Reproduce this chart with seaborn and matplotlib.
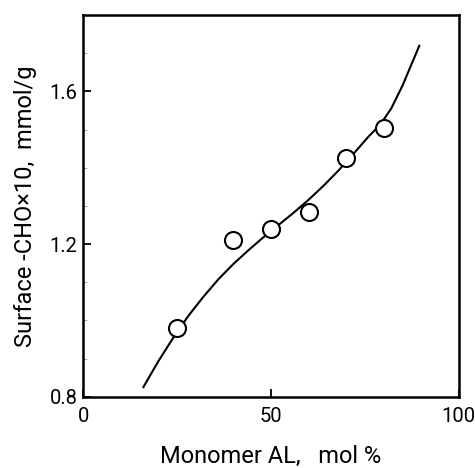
import numpy as np
import pandas as pd
import matplotlib
matplotlib.use("Agg")
import matplotlib.pyplot as plt
import seaborn as sns
from matplotlib.ticker import MultipleLocator

# measured points
monomer_al = [25, 40, 50, 60, 70, 80]
surface_cho = [0.98, 1.21, 1.24, 1.285, 1.425, 1.505]

# smooth guide curve
curve_x = [16, 20, 24, 28, 32, 36, 40, 44, 48, 52, 56, 60, 64, 68, 72, 76, 79, 82, 85, 88, 89.5]
curve_y = [0.825, 0.893, 0.955, 1.012, 1.062, 1.108, 1.148, 1.184, 1.218, 1.250, 1.282,
           1.316, 1.353, 1.393, 1.437, 1.482, 1.512, 1.555, 1.615, 1.685, 1.72]

pts = pd.DataFrame({"al": monomer_al, "cho": surface_cho})
curve = pd.DataFrame({"al": curve_x, "cho": curve_y})

sns.set_style("ticks")
plt.rcParams["font.family"] = ["Roboto", "DejaVu Sans"]
plt.rcParams["text.color"] = "black"
plt.rcParams["axes.labelcolor"] = "black"
plt.rcParams["xtick.color"] = "black"
plt.rcParams["ytick.color"] = "black"

fig = plt.figure(figsize=(4.75, 4.68), dpi=100)
ax = fig.add_axes([0.175, 0.152, 0.791, 0.816])

sns.lineplot(x="al", y="cho", data=curve, sort=False, color="black", lw=1.5, ax=ax)
sns.scatterplot(x="al", y="cho", data=pts, s=150, facecolor="white",
                edgecolor="black", linewidth=1.5, zorder=3, ax=ax)

ax.set_xlim(0, 100)
ax.set_ylim(0.8, 1.8)
ax.set_xticks([0, 50, 100])
ax.set_yticks([0.8, 1.2, 1.6])
ax.set_yticklabels(["0.8", "1.2", "1.6"])
ax.yaxis.set_minor_locator(MultipleLocator(0.1))
ax.tick_params(which="major", direction="in", length=6, width=1.3, labelsize=14.5, pad=4)
ax.tick_params(which="minor", direction="in", length=3, width=0.6, color="#999999")
ax.tick_params(axis="x", pad=7)
for s in ax.spines.values():
    s.set_linewidth(1.8)
    s.set_color("black")

ax.set_xlabel("Monomer AL,   mol %", fontsize=17, labelpad=14)
ax.set_ylabel("Surface -CHO\u00d710,  mmol/g", fontsize=17, labelpad=9)

fig.savefig("out.png", dpi=100)
